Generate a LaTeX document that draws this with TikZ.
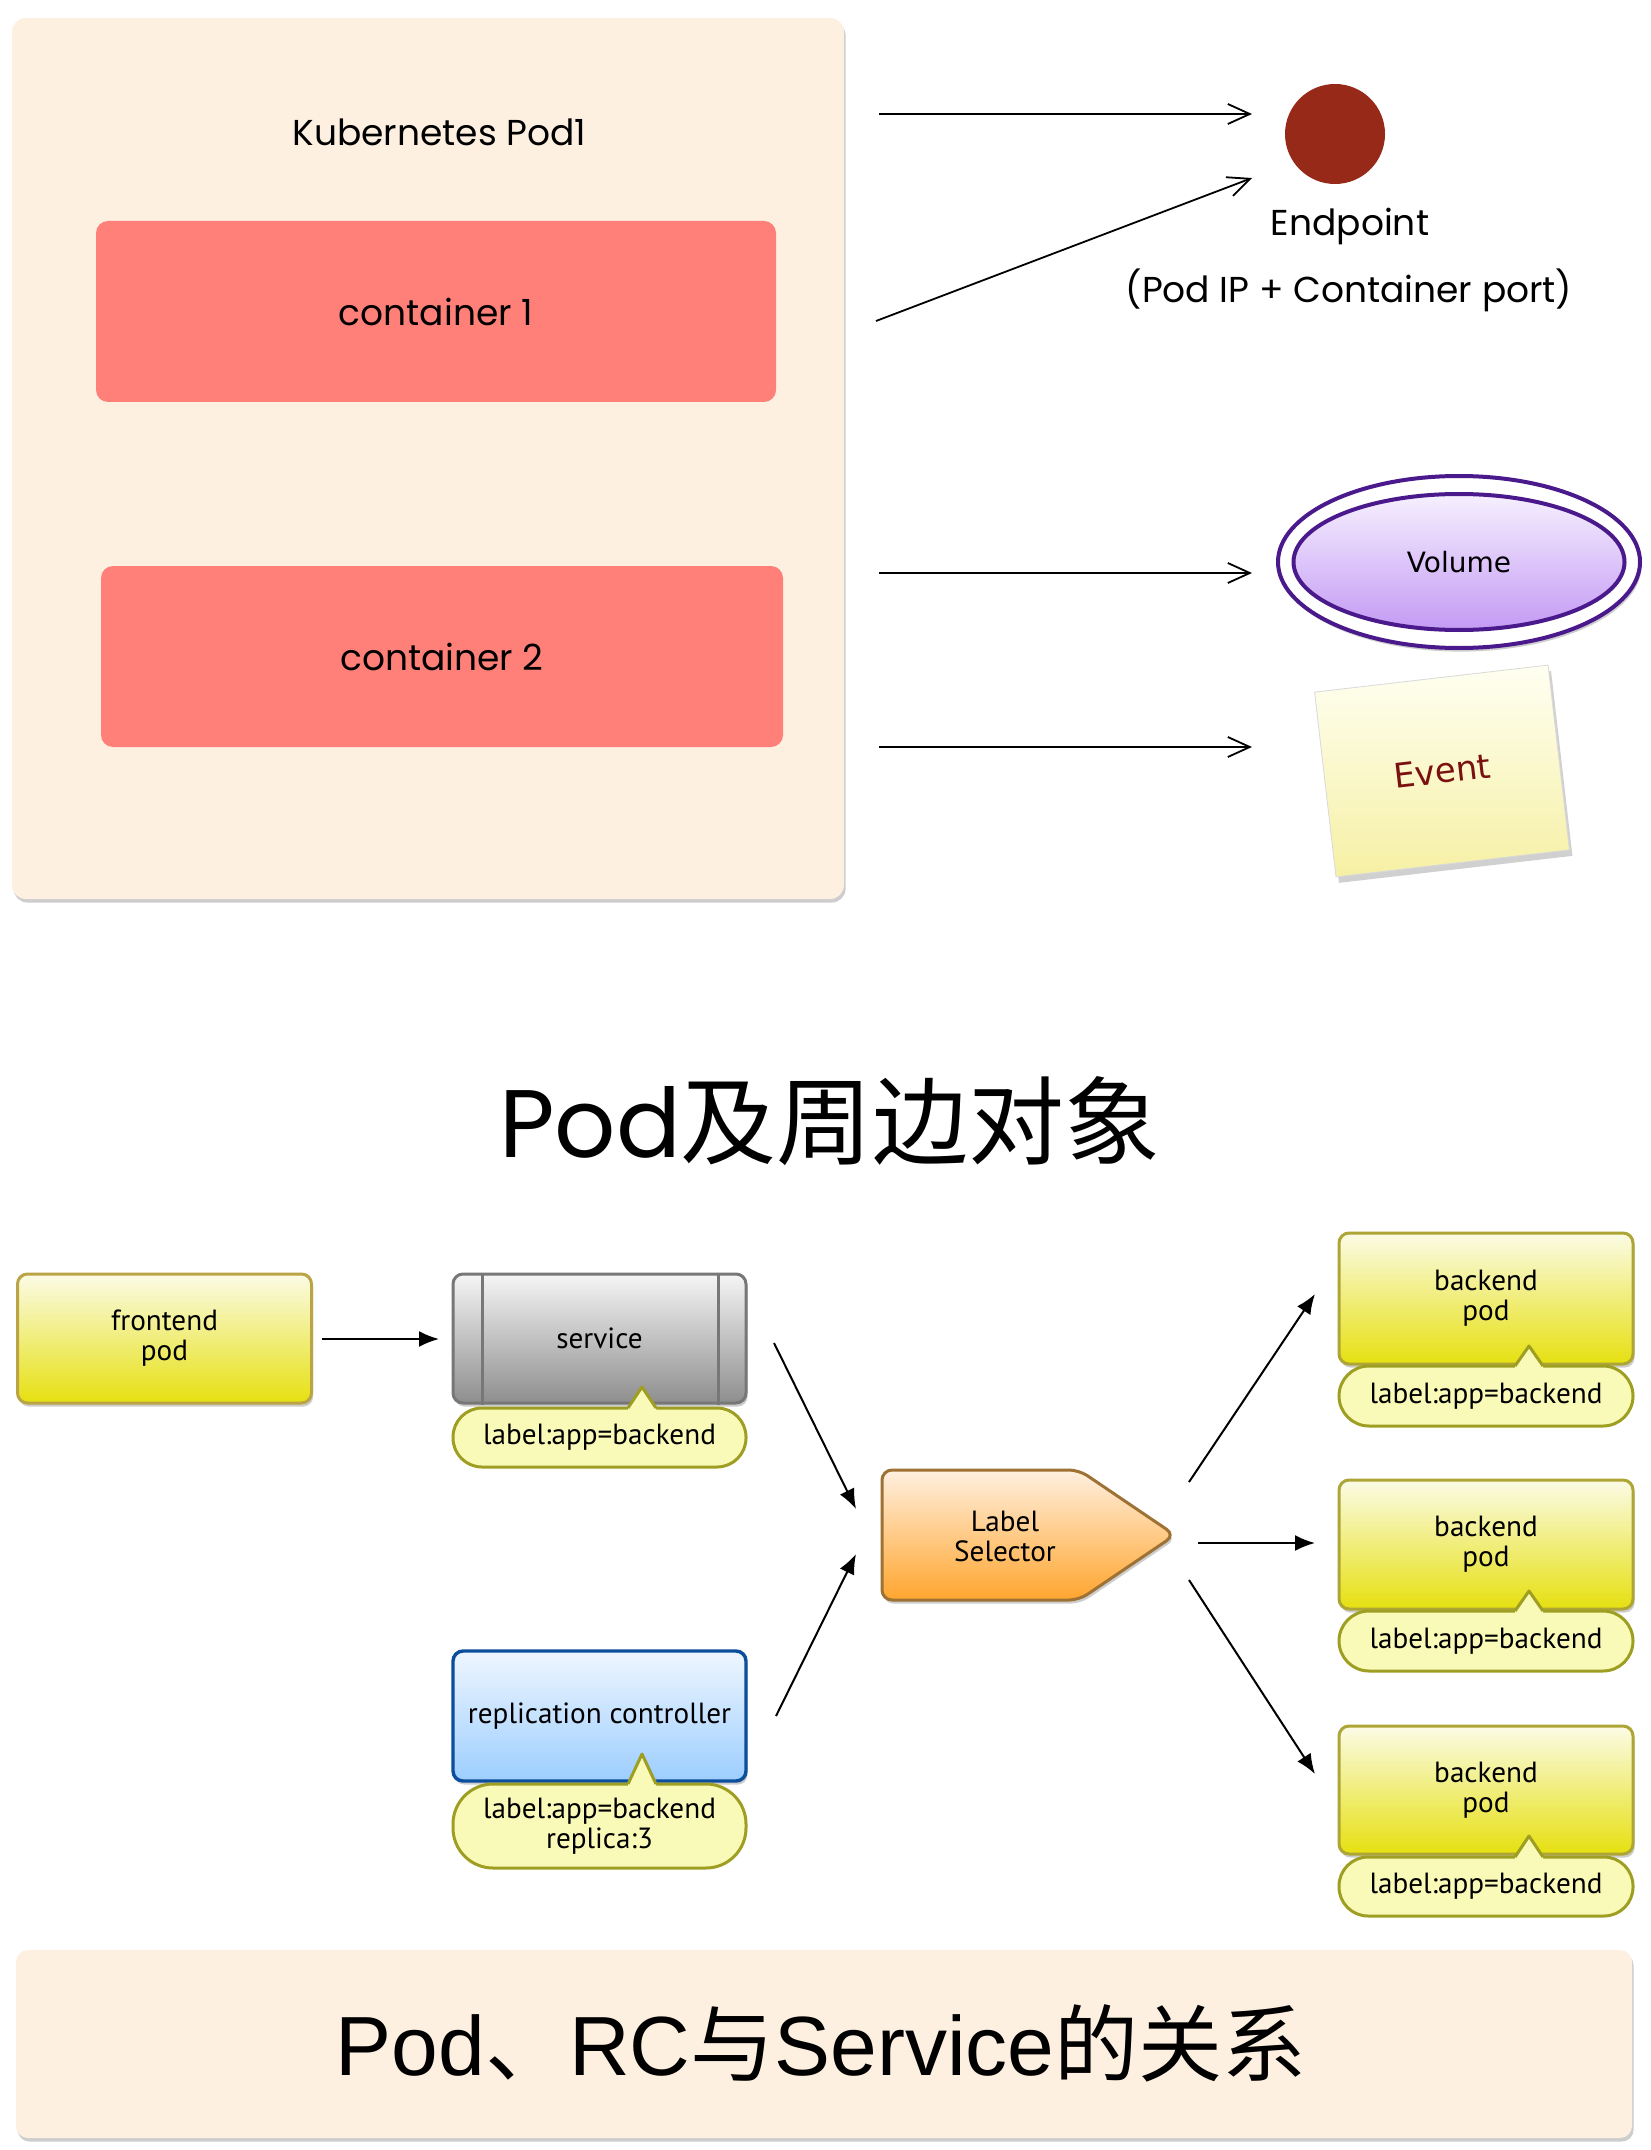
\documentclass[tikz,border=0pt]{standalone}
\usepackage{fontspec}
\usetikzlibrary{arrows.meta,shapes.geometric,shadows,calc}
\newfontfamily\pop{Poppins}
\newfontfamily\cjk{Noto Sans CJK SC}
\newfontfamily\pts{PT Sans}
\newfontfamily\dvs{DejaVu Sans}
\newfontfamily\lib{Liberation Sans}
\definecolor{podbg}{HTML}{FDF0E0}
\definecolor{contred}{HTML}{FF7F79}
\definecolor{epred}{HTML}{962918}
\definecolor{volpurple}{HTML}{4A1A8C}
\definecolor{voltop}{HTML}{F6F0FF}
\definecolor{volbot}{HTML}{C49AF4}
\definecolor{notetop}{HTML}{FFFFF2}
\definecolor{notebot}{HTML}{F6F0A4}
\definecolor{evred}{HTML}{7A1010}
\definecolor{ytop}{HTML}{FBFBE6}
\definecolor{ybot}{HTML}{E6E010}
\definecolor{yborder}{HTML}{ADA636}
\definecolor{fborder}{HTML}{BBA445}
\definecolor{lblfill}{HTML}{FAFAB8}
\definecolor{lblborder}{HTML}{9E9E22}
\definecolor{gtop}{HTML}{F5F5F5}
\definecolor{gbot}{HTML}{8E8E8E}
\definecolor{gborder}{HTML}{777777}
\definecolor{btop}{HTML}{EEF6FF}
\definecolor{bbot}{HTML}{9DCEFF}
\definecolor{bborder}{HTML}{0C4E9C}
\definecolor{otop}{HTML}{FFF0E0}
\definecolor{obot}{HTML}{FFA52E}
\definecolor{oborder}{HTML}{9E7234}
\newcommand{\calloutptr}[3]{%
  \fill[lblfill] (#1-14,#3) -- (#1,#2) -- (#1+14,#3) -- (#1+14,#3+3) -- (#1-14,#3+3) -- cycle;
  \draw[lblborder, line width=1.5pt, line join=round] (#1-14,#3) -- (#1,#2) -- (#1+14,#3);}
\tikzset{
  shad/.style={drop shadow={shadow xshift=0.8pt,shadow yshift=-1.8pt,opacity=0.28,fill=black!70}},
  podbox/.style={fill=podbg, rounded corners=7pt, shad, inner sep=0},
  cont/.style={fill=contred, rounded corners=6pt, inner sep=0, font=\pop\fontsize{18}{22}\selectfont},
  toptext/.style={font=\pop\fontsize{18}{22}\selectfont, inner sep=0},
  toparrow/.style={line width=0.9pt, -{Straight Barb[length=11pt,width=10pt,line width=0.9pt]}},
  botarrow/.style={line width=1pt, -{Latex[length=10pt,width=8pt]}},
  bfont/.style={font=\pts\fontsize{14.6}{15}\selectfont, align=center},
  ybox/.style={top color=ytop, bottom color=ybot, draw=yborder, line width=1.5pt, rounded corners=5pt, minimum width=147pt, shad, inner sep=0, bfont},
  fbox/.style={ybox, draw=fborder},
  gbox/.style={top color=gtop, bottom color=gbot, draw=gborder, line width=1.5pt, rounded corners=5pt, minimum width=146.5pt, shad, inner sep=0, bfont},
  bluebox/.style={top color=btop, bottom color=bbot, draw=bborder, line width=1.7pt, rounded corners=5pt, minimum width=146.5pt, shad, inner sep=0, bfont},
  lbl/.style={fill=lblfill, draw=lblborder, line width=1.5pt, inner sep=0, bfont},
  svcline/.style={draw=gborder, line width=1.3pt},
}
\begin{document}
\begin{tikzpicture}[x=0.5pt,y=-0.5pt]
\useasboundingbox (0,0) rectangle (1650,2150);
\fill[white] (0,0) rectangle (1650,2150);

% ---------- top: pod and surrounding objects ----------
\node[podbox, minimum width=416pt, minimum height=440.5pt] (pod) at (428,458.5) {};
\node[toptext] (podt) at (439.5,132) {Kubernetes Pod1};
\node[cont, minimum width=340pt, minimum height=90.5pt] (c1) at (436,311.5) {container 1};
\node[cont, minimum width=341pt, minimum height=90.5pt] (c2) at (442,656.5) {container 2};

\node[circle, fill=epred, minimum size=50pt, inner sep=0] (ep) at (1335,134) {};
\node[toptext] (ept) at (1350,226) {Endpoint};
\node[toptext] (eps) at (1349,290) {(Pod IP + Container port)};

\node[ellipse, fill=white, draw=volpurple, line width=2pt, minimum width=181pt, minimum height=86pt, shad] (volo) at (1459,562) {};
\node[ellipse, top color=voltop, bottom color=volbot, draw=volpurple, line width=2pt, minimum width=165.5pt, minimum height=68pt, font=\dvs\fontsize{14}{16}\selectfont] (vol) at (1459,562) {Volume};

\node[rotate=6.6, top color=notetop, bottom color=notebot, draw=black!15, line width=0.4pt, minimum width=117.5pt, minimum height=93pt, inner sep=0, drop shadow={shadow xshift=1.5pt,shadow yshift=-3pt,opacity=0.3,fill=black!60}, font=\dvs\fontsize{17}{18}\selectfont, text=evred] (ev) at (1442,771) {Event};

\coordinate (t1s) at (879,114);  \coordinate (t1e) at (1252,114);
\coordinate (t2s) at (876,321);  \coordinate (t2e) at (1252,178);
\coordinate (t3s) at (879,573);  \coordinate (t3e) at (1252,573);
\coordinate (t4s) at (879,747);  \coordinate (t4e) at (1252,747);
\draw[toparrow] (t1s) -- (t1e);
\draw[toparrow] (t2s) -- (t2e);
\draw[toparrow] (t3s) -- (t3e);
\draw[toparrow] (t4s) -- (t4e);

% ---------- middle title ----------
\node[inner sep=0, font=\fontsize{48}{52}\selectfont] (title) at (830,1121) {{\pop Pod}{\cjk 及周边对象}};

% ---------- bottom diagram ----------
\node[fbox, minimum height=64.5pt] (fe) at (164.5,1338.5) {frontend\\pod};

\node[gbox, minimum height=64.5pt] (svc) at (599.5,1338.5) {service};
\draw[svcline] ([xshift=15.5pt]svc.north west) -- ([xshift=15.5pt]svc.south west);
\draw[svcline] ([xshift=-14.5pt]svc.north east) -- ([xshift=-14.5pt]svc.south east);
\node[lbl, minimum width=146.5pt, minimum height=29.5pt, rounded corners=14.5pt] (svcl) at (599.5,1437.5) {label:app=backend};
\calloutptr{642}{1387}{1408}

\node[bluebox, minimum height=65pt] (rc) at (599.5,1716) {replication controller};
\node[lbl, minimum width=146.5pt, minimum height=42pt, rounded corners=20pt] (rcl) at (599.5,1826) {label:app=backend\\replica:3};
\calloutptr{642}{1754}{1784}

\shadedraw[top color=otop, bottom color=obot, draw=oborder, line width=1.5pt, rounded corners=5pt, shad]
  (882,1470) -- (1079,1470) -- (1175,1535) -- (1079,1600) -- (882,1600) -- cycle;
\node[bfont, inner sep=0] (sel) at (1005,1536) {Label\\Selector};

\node[ybox, minimum height=65.5pt] (bp1) at (1486,1298.5) {backend\\pod};
\node[lbl, minimum width=147pt, minimum height=30pt, rounded corners=15pt] (bl1) at (1486,1396) {label:app=backend};
\calloutptr{1529}{1346}{1366}

\node[ybox, minimum height=64.5pt] (bp2) at (1486,1544.5) {backend\\pod};
\node[lbl, minimum width=147pt, minimum height=30pt, rounded corners=15pt] (bl2) at (1486,1641) {label:app=backend};
\calloutptr{1529}{1591}{1611}

\node[ybox, minimum height=64pt] (bp3) at (1486,1790) {backend\\pod};
\node[lbl, minimum width=147pt, minimum height=29.5pt, rounded corners=14.5pt] (bl3) at (1486,1886.5) {label:app=backend};
\calloutptr{1529}{1836}{1857}

\coordinate (b0s) at (322,1339);  \coordinate (b0e) at (439,1339);
\coordinate (b1s) at (774,1343);  \coordinate (b1e) at (856,1509);
\coordinate (b2s) at (776,1716);  \coordinate (b2e) at (856,1554);
\coordinate (b3s) at (1189,1482); \coordinate (b3e) at (1315,1294);
\coordinate (b4s) at (1198,1543); \coordinate (b4e) at (1315,1543);
\coordinate (b5s) at (1189,1580); \coordinate (b5e) at (1315,1774);
\draw[botarrow] (b0s) -- (b0e);
\draw[botarrow] (b1s) -- (b1e);
\draw[botarrow] (b2s) -- (b2e);
\draw[botarrow] (b3s) -- (b3e);
\draw[botarrow] (b4s) -- (b4e);
\draw[botarrow] (b5s) -- (b5e);

% ---------- bottom banner ----------
\node[fill=podbg, rounded corners=6pt, minimum width=808pt, minimum height=94pt, inner sep=0, shad] (ban) at (824,2044) {};
\node[inner sep=0, font=\fontsize{42}{46}\selectfont] (bant) at (821,2043) {{\lib Pod}{\cjk 、}{\lib RC}{\cjk 与}{\lib Service}{\cjk 的关系}};
\end{tikzpicture}
\end{document}
